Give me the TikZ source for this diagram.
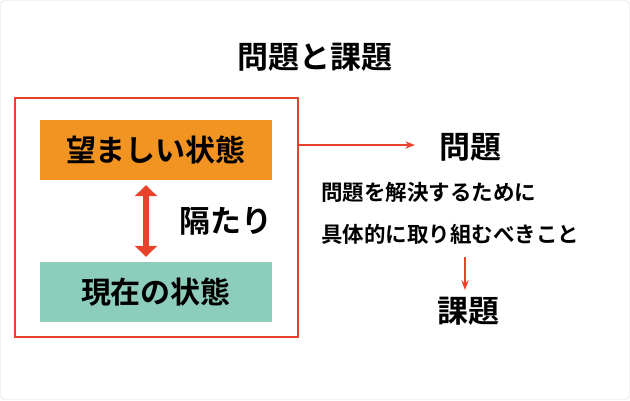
\documentclass[tikz,border=0pt]{standalone}
\usepackage{fontspec}
\newfontfamily\cjk{Noto Sans CJK JP Bold}
\usetikzlibrary{positioning}
\usetikzlibrary{arrows.meta}
\definecolor{boxred}{HTML}{E8412C}
\definecolor{boxorange}{HTML}{F29422}
\definecolor{boxteal}{HTML}{8DCDBB}
\tikzset{
  statebox/.style={minimum width=232pt,minimum height=60pt,inner sep=0pt,font=\cjk\fontsize{30}{34}\selectfont},
  label/.style={font=\cjk\fontsize{31}{34}\selectfont,inner sep=0pt},
  small/.style={font=\cjk\fontsize{21.5}{42}\selectfont,inner sep=0pt,align=left}
}
\begin{document}
\begin{tikzpicture}[x=1pt,y=-1pt,>={Stealth[scale=1.0]}]

  \draw[black!15,rounded corners=4pt] (0.5,0.5) rectangle (629.5,399.5);
  \useasboundingbox (0,0) rectangle (630,400);

  \node[label] (title) at (315,57) {問題と課題};

  \draw[boxred,line width=2pt] (15,98) rectangle (298,337);
  \coordinate (frame) at (298,145);
  \coordinate (frameend) at (415,145);

  \node[statebox,fill=boxorange] (ideal) at (156,150) {望ましい状態};
  \node[statebox,fill=boxteal] (now) at (156,292) {現在の状態};

  \draw[<->,boxred,line width=6pt,>={Triangle[length=11pt,width=22pt]}]
    ([xshift=-10pt,yshift=-5pt]ideal.south) -- ([xshift=-10pt,yshift=5pt]now.north);
  \node[label] (gap) at (226,221) {隔たり};

  \node[label] (problem) at (470,147) {問題};
  \draw[->,boxred,line width=1.5pt] (frame) -- (frameend);

  \node[small] (desc) at (450,213) {問題を解決するために\\具体的に取り組むべきこと};
  \coordinate (descend) at (465,257);
  \coordinate (taskend) at (465,290);
  \node[label] (task) at (468,311) {課題};
  \draw[->,boxred,line width=1.5pt] (descend) -- (taskend);

\end{tikzpicture}
\end{document}
